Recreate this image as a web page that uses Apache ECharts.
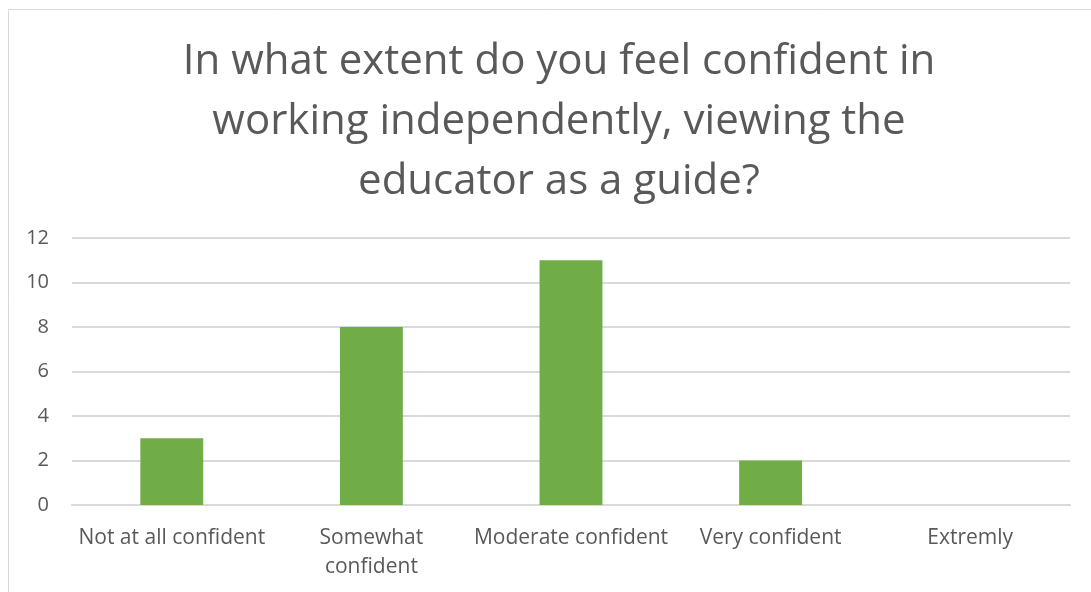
<!DOCTYPE html>
<html>
<head>
<meta charset="utf-8">
<script src="https://cdn.jsdelivr.net/npm/echarts@6/dist/echarts.min.js"></script>
<style>html,body{margin:0;padding:0;background:#fff;}#c{width:1091px;height:592px;}</style>
</head>
<body>
<div id="c"></div>
<script>
const titleText = "In what extent do you feel confident in\nworking independently, viewing the\neducator as a guide?";
const categories = ["Not at all confident", "Somewhat\nconfident", "Moderate confident", "Very confident", "Extremly"];
const values = [3, 8, 11, 2, 0];
const yTicks = [0, 2, 4, 6, 8, 10, 12];

const chart = echarts.init(document.getElementById('c'));
const font = '"Open Sans", "Liberation Sans", sans-serif';
chart.setOption({
  animation: false,
  backgroundColor: '#fff',
  graphic: [{
    type: 'rect', shape: {x: 8.5, y: 9.5, width: 1100, height: 600},
    style: {fill: 'none', stroke: '#d9d9d9', lineWidth: 1}, silent: true
  }],
  title: {
    text: titleText, left: 554, textAlign: 'center', top: 27,
    textStyle: {fontFamily: font, fontSize: 42, fontWeight: 'normal', color: '#595959', lineHeight: 60}
  },
  grid: {left: 72, right: 21, top: 238, bottom: 87, containLabel: false},
  xAxis: {
    type: 'category', data: categories,
    axisLine: {lineStyle: {color: '#d9d9d9', width: 2}},
    axisTick: {show: false},
    axisLabel: {fontFamily: font, fontSize: 21, color: '#595959', margin: 19, lineHeight: 29, interval: 0}
  },
  yAxis: {
    type: 'value', min: 0, max: 12, interval: 2,
    axisLine: {show: false}, axisTick: {show: false},
    splitLine: {lineStyle: {color: '#d9d9d9', width: 2}},
    axisLabel: {fontFamily: font, fontSize: 20, color: '#595959', margin: 23,
      formatter: v => yTicks.includes(v) ? String(v) : ''}
  },
  series: [{
    type: 'bar', data: values, barWidth: '31.5%',
    itemStyle: {color: '#70ad47'}
  }]
});
</script>
</body>
</html>
